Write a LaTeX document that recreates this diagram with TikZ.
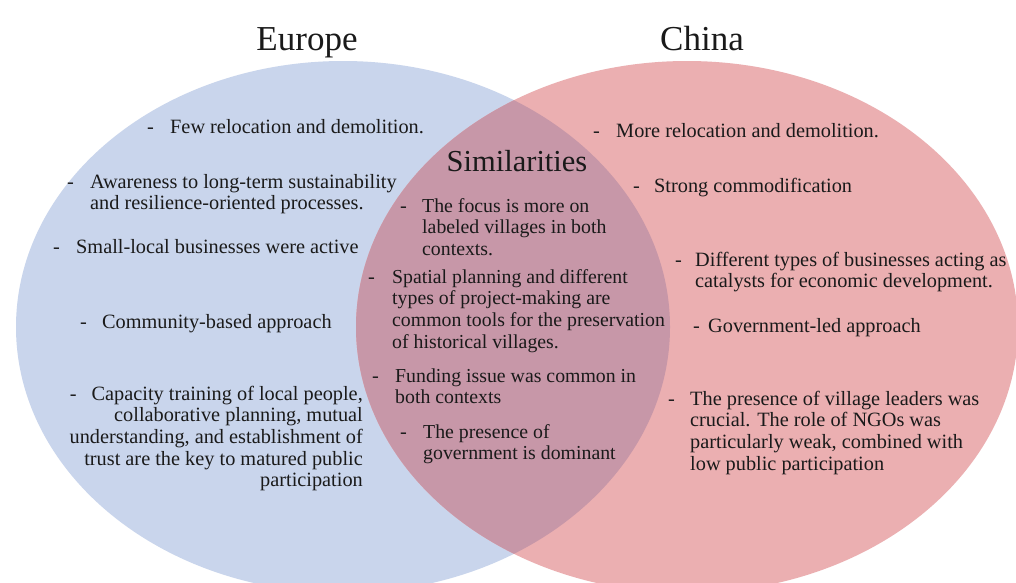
\documentclass[tikz,border=0pt]{standalone}
\usepackage{fontspec}
\setmainfont{Liberation Serif}
\definecolor{eublue}{HTML}{C9D5EC}
\definecolor{cnpink}{HTML}{EBAFB1}
\definecolor{overlapc}{HTML}{C797A8}
\definecolor{inkc}{HTML}{1A1A1A}
\newcommand{\vennbody}{\fontsize{20.3}{21.7}\selectfont}
\newcommand{\vennsim}{\fontsize{19.8}{21.7}\selectfont}
\tikzset{
  txt/.style={font=\vennbody, text=inkc, inner sep=0pt, anchor=base west, align=left},
  stxt/.style={font=\vennsim, text=inkc, inner sep=0pt, anchor=base west, align=left},
  txtr/.style={font=\vennbody, text=inkc, inner sep=0pt, anchor=base east, align=right},
  dashn/.style={font=\vennbody, text=inkc, inner sep=0pt, anchor=base west},
  ttl/.style={font=\fontsize{35}{40}\selectfont, text=inkc, inner sep=0pt, anchor=base},
  simttl/.style={font=\fontsize{30.5}{36}\selectfont, text=inkc, inner sep=0pt, anchor=base}
}
\begin{document}
\begin{tikzpicture}[x=1pt,y=-1pt]
\useasboundingbox (0,0) rectangle (1016,582);
\clip (0,0) rectangle (1016,582);
\fill[white] (0,0) rectangle (1016,582);
% circles
\fill[eublue] (343,327) ellipse [x radius=327pt, y radius=266pt];
\fill[cnpink] (687,327) ellipse [x radius=331pt, y radius=266pt];
\begin{scope}
  \clip (343,327) ellipse [x radius=327pt, y radius=266pt];
  \fill[overlapc] (687,327) ellipse [x radius=331pt, y radius=266pt];
\end{scope}
% titles
\node[ttl] (europe) at (307,50) {Europe};
\node[ttl] (china) at (702,50) {China};
\node[simttl] (sim) at (517,171) {Similarities};
% Europe items (multi-line nodes are placed by the baseline of their last line)
\node[dashn] (e1d) at (147,133) {-};
\node[txt] (e1) at (170,133) {Few relocation and demolition.};
\node[dashn] (e2d) at (67,188) {-};
\node[txt] (e2) at (90,209.7) {Awareness to long-term sustainability\\and resilience-oriented processes.};
\node[dashn] (e3d) at (53,253) {-};
\node[txt] (e3) at (76,253) {Small-local businesses were active};
\node[dashn] (e4d) at (80,328) {-};
\node[txt] (e4) at (102,328) {Community-based approach};
\node[txtr] (e5) at (363,486.8) {-\hspace{15pt}Capacity training of local people,\\collaborative planning, mutual\\understanding, and establishment of\\trust are the key to matured public\\participation};
% Similarities items
\node[dashn] (s1d) at (400,212) {-};
\node[stxt] (s1) at (422,255.4) {The focus is more on\\labeled villages in both\\contexts.};
\node[dashn] (s2d) at (368,283) {-};
\node[stxt] (s2) at (392,348.1) {Spatial planning and different\\types of project-making are\\common tools for the preservation\\of historical villages.};
\node[dashn] (s3d) at (372,382) {-};
\node[stxt] (s3) at (395,403.7) {Funding issue was common in\\both contexts};
\node[dashn] (s4d) at (400,438) {-};
\node[stxt] (s4) at (423,459.7) {The presence of\\government is dominant};
% China items
\node[dashn] (c1d) at (593,137) {-};
\node[txt] (c1) at (616,137) {More relocation and demolition.};
\node[dashn] (c2d) at (633,192) {-};
\node[txt] (c2) at (654,192) {Strong commodification};
\node[dashn] (c3d) at (675,266) {-};
\node[txt] (c3) at (695,287.7) {Different types of businesses acting as\\catalysts for economic development.};
\node[dashn] (c4d) at (693,332) {-};
\node[txt] (c4) at (708,332) {Government-led approach};
\node[dashn] (c5d) at (668,405) {-};
\node[txt] (c5) at (690,470.1) {The presence of village leaders was\\crucial. The role of NGOs was\\particularly weak, combined with\\low public participation};
\end{tikzpicture}
\end{document}
